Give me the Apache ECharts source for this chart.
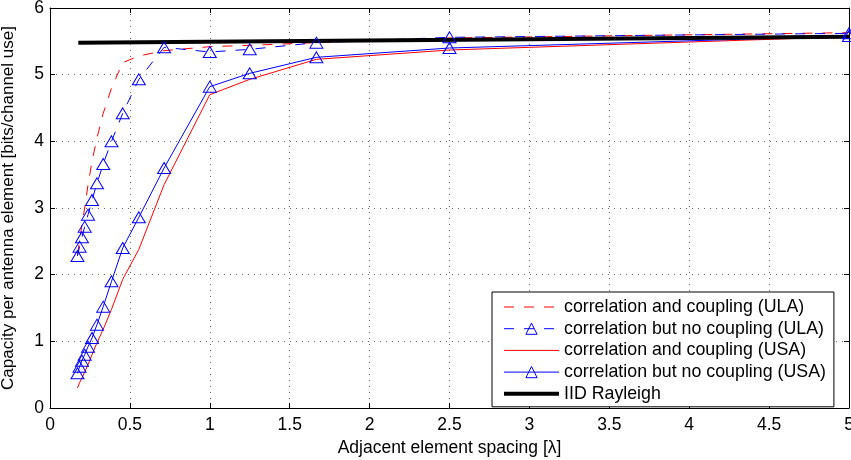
<!DOCTYPE html>
<html>
<head>
<meta charset="utf-8">
<script src="https://cdn.jsdelivr.net/npm/echarts@6/dist/echarts.min.js"></script>
<style>html,body{margin:0;padding:0;background:#fff}#c{width:851px;height:460px}</style>
</head>
<body>
<div id="c"></div>
<script>
// Adjacent element spacing values (in wavelengths)
var spacing = [0.172, 0.185, 0.2, 0.217, 0.238, 0.263, 0.294, 0.333, 0.385, 0.455, 0.556, 0.714, 1, 1.25, 1.667, 2.5, 5];
// correlation and coupling (ULA) - red dashed
var ulaCoupling   = [2.3, 2.5, 2.75, 3.0, 3.35, 3.7, 4.05, 4.42, 4.8, 5.18, 5.28, 5.36, 5.42, 5.44, 5.48, 5.55, 5.63];
// correlation but no coupling (ULA) - blue dashed, triangles
var ulaNoCoupling = [2.28, 2.42, 2.56, 2.72, 2.9, 3.12, 3.37, 3.66, 4.0, 4.42, 4.93, 5.41, 5.34, 5.38, 5.48, 5.56, 5.62];
// correlation and coupling (USA) - red solid
var usaCoupling   = [0.3, 0.38, 0.45, 0.54, 0.65, 0.8, 0.98, 1.18, 1.48, 1.93, 2.38, 3.35, 4.7, 4.93, 5.23, 5.37, 5.57];
// correlation but no coupling (USA) - blue solid, triangles
var usaNoCoupling = [0.52, 0.62, 0.71, 0.8, 0.92, 1.05, 1.25, 1.52, 1.9, 2.4, 2.86, 3.6, 4.82, 5.02, 5.26, 5.4, 5.58];
// IID Rayleigh - black thick
var iidX = [0.177, 5];
var iidY = [5.48, 5.57];

var names = ['correlation and coupling (ULA)', 'correlation but no coupling (ULA)',
             'correlation and coupling (USA)', 'correlation but no coupling (USA)', 'IID Rayleigh'];
var xTicks = ['0','0.5','1','1.5','2','2.5','3','3.5','4','4.5','5'];

function pairs(xs, ys){ return xs.map(function(x,i){ return [x, ys[i]]; }); }

var font = 'Liberation Sans, Arial, Helvetica, sans-serif';
var chart = echarts.init(document.getElementById('c'), null, {renderer:'canvas'});
var gridLine = {show:true, lineStyle:{color:'#666', width:1, type:[1,5]}};
var tri = {type:'line', symbol:'triangle', symbolSize:[13,11], showSymbol:true,
           itemStyle:{color:'rgba(255,255,255,0)', borderColor:'#0000ff', borderWidth:1}};
var noMark = {color:'rgba(0,0,0,0)', borderColor:'rgba(0,0,0,0)', borderWidth:0};
var triMark = {color:'rgba(255,255,255,0)', borderColor:'#0000ff', borderWidth:1};

chart.setOption({
  animation:false,
  backgroundColor:'#fff',
  grid:{left:50, right:2, top:8, bottom:52, show:false, outerBoundsMode:'none', containLabel:false},
  legend:{
    orient:'vertical', left:492, top:292,
    data:[
      {name:names[0], itemStyle:noMark},
      {name:names[1], itemStyle:triMark},
      {name:names[2], itemStyle:noMark},
      {name:names[3], itemStyle:triMark},
      {name:names[4], itemStyle:noMark, lineStyle:{width:4, color:'#000'}}
    ],
    itemWidth:55, itemHeight:14, itemGap:3.7,
    padding:[6,8,4,10],
    lineStyle:{width:1},
    borderColor:'#000', borderWidth:1, backgroundColor:'#fff',
    textStyle:{fontFamily:font, fontSize:17.8, lineHeight:18, color:'#000'},
    selectedMode:false
  },
  xAxis:[{
    type:'value', min:0, max:5, interval:0.5,
    name:'Adjacent element spacing [λ]', nameLocation:'middle', nameGap:20,
    nameTextStyle:{fontFamily:font, fontSize:17.5, color:'#000'},
    axisLine:{show:true, onZero:false, lineStyle:{color:'#000', width:1}},
    axisTick:{show:true, inside:true, length:5, lineStyle:{color:'#000'}},
    axisLabel:{fontFamily:font, fontSize:17.5, color:'#000', margin:8,
      formatter:function(v){ return xTicks[Math.round(v*2)]; }},
    splitLine:gridLine
  },{
    type:'value', min:0, max:5, interval:0.5, position:'top',
    axisLine:{show:true, onZero:false, lineStyle:{color:'#000', width:1}},
    axisTick:{show:true, inside:true, length:5, lineStyle:{color:'#000'}},
    axisLabel:{show:false}, splitLine:{show:false}
  }],
  yAxis:[{
    type:'value', min:0, max:6, interval:1,
    name:'Capacity per antenna element [bits/channel use]', nameLocation:'middle', nameGap:33,
    nameTextStyle:{fontFamily:font, fontSize:17, color:'#000'},
    axisLine:{show:true, onZero:false, lineStyle:{color:'#000', width:1}},
    axisTick:{show:true, inside:true, length:5, lineStyle:{color:'#000'}},
    axisLabel:{fontFamily:font, fontSize:17.5, color:'#000', margin:6},
    splitLine:gridLine
  },{
    type:'value', min:0, max:6, interval:1, position:'right',
    axisLine:{show:true, onZero:false, lineStyle:{color:'#000', width:1}},
    axisTick:{show:true, inside:true, length:5, lineStyle:{color:'#000'}},
    axisLabel:{show:false}, splitLine:{show:false}
  }],
  series:[
    {name:names[0], type:'line', symbol:'none', data:pairs(spacing, ulaCoupling),
     itemStyle:{color:'#ff0000'}, lineStyle:{color:'#ff0000', width:1, type:[10,10]}},
    Object.assign({}, tri, {name:names[1], data:pairs(spacing, ulaNoCoupling),
     lineStyle:{color:'#0000ff', width:1, type:[10,10]}}),
    {name:names[2], type:'line', symbol:'none', data:pairs(spacing, usaCoupling),
     itemStyle:{color:'#ff0000'}, lineStyle:{color:'#ff0000', width:1}},
    Object.assign({}, tri, {name:names[3], data:pairs(spacing, usaNoCoupling),
     lineStyle:{color:'#0000ff', width:1}}),
    {name:names[4], type:'line', symbol:'none', data:pairs(iidX, iidY),
     itemStyle:{color:'#000'}, lineStyle:{color:'#000', width:4}}
  ]
});
</script>
</body>
</html>
